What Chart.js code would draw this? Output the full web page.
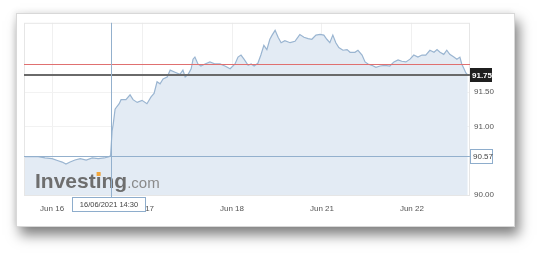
<!DOCTYPE html>
<html>
<head>
<meta charset="utf-8">
<script src="https://cdn.jsdelivr.net/npm/chart.js@4/dist/chart.umd.min.js"></script>
<style>
html, body { margin: 0; padding: 0; background: #fff; }
#card {
  position: absolute; left: 16px; top: 13px; width: 497px; height: 212px;
  background: #fff; border: 1px solid #d8d8d8;
  box-shadow: 4px 8px 12px rgba(0,0,0,.5), -2px -2px 5px rgba(0,0,0,.06);
}
#card canvas { position: absolute; left: 0; top: 0; }
</style>
</head>
<body>
<div id="card"><canvas id="grafico"></canvas></div>
<script>
// ================= DATOS =================
// horas desde Jun 16 00:00 (fin de semana omitido)
const horas = [-7.5, -5.9, -3.7, -1.9, 0, 1.6, 2.7, 3.7, 4.8, 6.1, 7.5, 9.1, 10.7, 12.3, 13.9, 15.2, 15.6,
  16.0, 16.3, 16.8, 17.3, 17.9, 18.4, 19.7, 20.8, 21.6, 22.7, 24.0, 25.3, 26.4, 27.2, 28.0, 28.8, 29.6,
  30.7, 31.5, 32.8, 34.1, 34.9, 35.5, 36.3, 37.1, 37.6, 38.1, 38.9, 39.7, 40.8, 42.1, 43.5, 44.8, 46.1,
  47.5, 48.8, 49.6, 50.4, 51.2, 52.3, 53.1, 53.9, 54.9, 55.7, 56.5, 57.3, 58.1, 58.7, 59.5, 60.3, 61.1,
  62.1, 63.5, 64.8, 65.6, 66.1, 67.2, 68.3, 69.3, 70.4, 71.5, 72.5, 73.3, 74.1, 74.9, 75.7, 76.5, 77.6,
  78.7, 79.5, 80.8, 81.6, 82.7, 83.5, 84.3, 85.3, 86.4, 87.5, 88.8, 90.1, 91.2, 92.3, 93.3, 94.4, 95.5,
  96.5, 97.6, 98.7, 99.7, 100.8, 101.9, 102.7, 103.5, 104.5, 105.3, 106.1, 107.2, 108.0, 108.8, 109.3,
  109.9, 110.4, 110.9];
const valores = [90.56, 90.56, 90.56, 90.54, 90.53, 90.50, 90.48, 90.45, 90.48, 90.51, 90.53, 90.51, 90.54, 90.53, 90.54, 90.56, 90.57,
  90.93, 91.03, 91.25, 91.29, 91.33, 91.39, 91.39, 91.46, 91.39, 91.35, 91.38, 91.33, 91.43, 91.48, 91.65, 91.62, 91.69,
  91.72, 91.82, 91.79, 91.76, 91.82, 91.72, 91.76, 91.84, 91.98, 92.01, 91.91, 91.88, 91.91, 91.94, 91.91, 91.91, 91.88,
  91.84, 91.91, 92.01, 92.04, 91.98, 91.89, 91.91, 91.88, 91.92, 92.04, 92.18, 92.12, 92.27, 92.33, 92.40, 92.30, 92.22,
  92.25, 92.22, 92.24, 92.30, 92.34, 92.30, 92.28, 92.27, 92.33, 92.34, 92.33, 92.27, 92.22, 92.33, 92.22, 92.15, 92.11,
  92.12, 92.08, 92.08, 92.11, 92.04, 91.94, 91.91, 91.89, 91.86, 91.88, 91.89, 91.88, 91.94, 91.97, 91.95, 91.94, 91.98,
  92.04, 92.01, 92.04, 92.04, 92.11, 92.08, 92.12, 92.08, 92.05, 92.11, 92.05, 92.01, 91.98, 92.01, 91.91,
  91.84, 91.78, 91.75];

const ticksX = [0, 24, 48, 72, 96];
const etiquetasX = ["Jun 16", "Jun 17", "Jun 18", "Jun 21", "Jun 22"];
const ticksY = [90, 91, 91.5];

const lineaRoja = 91.91;
const ultimoPrecio = 91.75;
const precioCursor = 90.57;
const horaCursor = 15.6;
const textoCursor = "16/06/2021 14:30";

const FUENTE = "'Liberation Sans', Arial, sans-serif";

// ================= EXTRAS (lineas, etiquetas, marca) =================
const extras = {
  id: "extras",
  afterDatasetsDraw(chart) {
    const ctx = chart.ctx;
    const a = chart.chartArea;
    const x = chart.scales.x, y = chart.scales.y;
    ctx.save();

    // borde del area
    ctx.strokeStyle = "#e6e6e6";
    ctx.lineWidth = 1;
    ctx.strokeRect(a.left + 0.5, a.top + 0.5, a.right - a.left - 1, a.bottom - a.top);

    // marca de agua
    ctx.textBaseline = "alphabetic";
    ctx.textAlign = "left";
    ctx.font = "bold 21px " + FUENTE;
    ctx.fillStyle = "#6e6e6e";
    const bx = 18, by = 174;
    ctx.fillText("Investing", bx, by);
    const w = ctx.measureText("Investing").width;
    const wi = ctx.measureText("Invest").width + ctx.measureText("i").width / 2;
    ctx.fillStyle = "#f2a63b";
    ctx.fillRect(bx + wi - 2, by - 16, 4, 4);
    ctx.font = "15px " + FUENTE;
    ctx.fillStyle = "#8a8a8a";
    ctx.fillText(".com", bx + w, by);

    // linea roja
    const yr = Math.round(y.getPixelForValue(lineaRoja)) + 0.5;
    ctx.strokeStyle = "#e07070";
    ctx.lineWidth = 1;
    ctx.beginPath(); ctx.moveTo(a.left, yr); ctx.lineTo(a.right, yr); ctx.stroke();

    // ultimo precio
    const yu = Math.round(y.getPixelForValue(ultimoPrecio));
    ctx.strokeStyle = "#6a6a6a";
    ctx.lineWidth = 2;
    ctx.beginPath(); ctx.moveTo(a.left, yu); ctx.lineTo(a.right, yu); ctx.stroke();

    // cursor
    const yc = Math.round(y.getPixelForValue(precioCursor)) + 0.5;
    const xc = Math.round(x.getPixelForValue(horaCursor)) + 0.5;
    ctx.strokeStyle = "#93b0cd";
    ctx.lineWidth = 1;
    ctx.beginPath(); ctx.moveTo(a.left, yc); ctx.lineTo(a.right, yc); ctx.stroke();
    ctx.beginPath(); ctx.moveTo(xc, a.top); ctx.lineTo(xc, a.bottom + 2); ctx.stroke();

    // caja ultimo precio
    ctx.font = "bold 8px " + FUENTE;
    ctx.textBaseline = "middle";
    ctx.fillStyle = "#1f1f1f";
    ctx.fillRect(a.right, yu - 7, 22, 14);
    ctx.fillStyle = "#fff";
    ctx.fillText(ultimoPrecio.toFixed(2), a.right + 2, yu + 0.5);

    // caja precio cursor
    ctx.fillStyle = "#fff";
    ctx.fillRect(a.right, yc - 7, 22, 14);
    ctx.strokeStyle = "#8eadcc";
    ctx.strokeRect(a.right + 0.5, yc - 7, 22, 14);
    ctx.font = "8px " + FUENTE;
    ctx.fillStyle = "#444";
    ctx.fillText(precioCursor.toFixed(2), a.right + 3, yc + 0.5);

    // caja fecha cursor
    const tx = 55, ty = a.bottom + 2;
    ctx.fillStyle = "#fff";
    ctx.fillRect(tx, ty, 73, 14);
    ctx.strokeStyle = "#8eadcc";
    ctx.strokeRect(tx + 0.5, ty + 0.5, 73, 14);
    ctx.font = "7.5px " + FUENTE;
    ctx.fillStyle = "#444";
    ctx.textAlign = "center";
    ctx.fillText(textoCursor, tx + 37, ty + 7.5);

    ctx.restore();
  }
};

// ================= GRAFICO =================
new Chart(document.getElementById("grafico"), {
  type: "line",
  data: {
    datasets: [{
      data: horas.map((h, i) => ({ x: h, y: valores[i] })),
      borderColor: "#9ab5d1",
      borderWidth: 1.2,
      backgroundColor: "#e3ebf4",
      fill: "start",
      pointRadius: 0,
      tension: 0
    }]
  },
  options: {
    responsive: true,
    maintainAspectRatio: false,
    animation: false,
    layout: { padding: { left: 7, top: 6, right: 0, bottom: 0 } },
    plugins: { legend: { display: false }, tooltip: { enabled: false } },
    scales: {
      x: {
        type: "linear",
        min: -7.5, max: 111.5,
        afterBuildTicks: s => { s.ticks = ticksX.map(v => ({ value: v })); },
        afterFit: s => { s.height = 31; },
        grid: { color: "#f0f0f0", drawTicks: false },
        border: { display: false },
        ticks: {
          padding: 9, maxRotation: 0, autoSkip: false, color: "#555",
          font: { size: 8, family: FUENTE },
          callback: v => etiquetasX[ticksX.indexOf(v)] || ""
        }
      },
      y: {
        position: "right",
        min: 90, max: 92.51,
        afterBuildTicks: s => { s.ticks = ticksY.map(v => ({ value: v })); },
        afterFit: s => { s.width = 44; },
        grid: { color: "#f2f2f2", drawTicks: false },
        border: { display: false },
        ticks: {
          padding: 4, color: "#555",
          font: { size: 8, family: FUENTE },
          callback: v => v.toFixed(2)
        }
      }
    }
  },
  plugins: [extras]
});
</script>
</body>
</html>
